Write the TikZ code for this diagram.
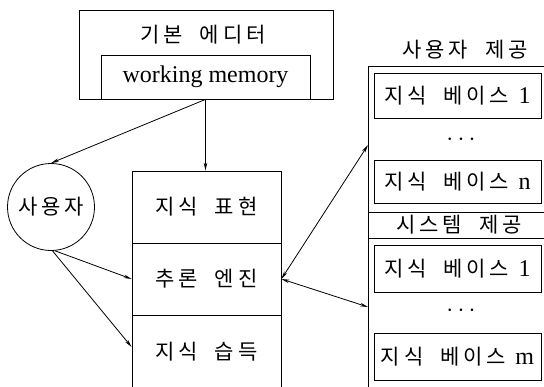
\documentclass[tikz,border=0pt]{standalone}
\usepackage{fontspec}
\setmainfont{Liberation Serif}
\newfontfamily\kr[LetterSpace=18,WordSpace=2]{Noto Sans CJK KR}
\usetikzlibrary{arrows.meta}
\newcommand\kbtext[1]{{\kr\fontsize{21}{21}\selectfont 지식 베이스} \hspace{7pt}{\fontsize{24}{24}\selectfont #1}}
\newcommand\kbdots{{\fontsize{24}{24}\selectfont$\cdots$}}
\begin{document}
\begin{tikzpicture}[x=1pt,y=-1pt,line width=0.8pt,
  box/.style={draw,rectangle,inner sep=0pt},
  kt/.style={font=\kr\fontsize{21}{21}\selectfont},
  lt/.style={font=\fontsize{24}{24}\selectfont},
  tip/.tip={Stealth[length=8pt,width=3.5pt]},
  arr/.style={-tip},
  darr/.style={tip-tip}]
\useasboundingbox (0,0) rectangle (544,386);
\clip (0,0) rectangle (544,386);
% editor
\node[box,minimum width=254pt,minimum height=89pt] (editor) at (206,54.5) {};
\node[kt] (edtitle) at (203,35) {기본 에디터};
\node[box,lt,minimum width=209pt,minimum height=44pt] (wm) at (205.5,77) {working memory};
% user
\node[draw,circle,minimum size=87pt,inner sep=0pt,kt] (user) at (51,207) {사용자};
% central
\node[box,kt,minimum width=149pt,minimum height=72pt] (rep) at (206.5,207) {지식 표현};
\node[box,kt,minimum width=149pt,minimum height=72pt] (inf) at (206.5,279) {추론 엔진};
\node[box,kt,minimum width=149pt,minimum height=74pt] (acq) at (206.5,352) {지식 습득};
% right
\node[kt] (ulabel) at (465,50) {사용자 제공};
\node[box,minimum width=182pt,minimum height=329pt] (kb) at (459,230.5) {};
\node[box,kt,minimum width=182pt,minimum height=26pt] (slabel) at (459,225) {시스템 제공};
\node[box,minimum width=167pt,minimum height=45pt] (u1) at (457.5,95.5) {\kbtext{1}};
\node (udots) at (461,140) {\kbdots};
\node[box,minimum width=167pt,minimum height=43pt] (un) at (457.5,181.5) {\kbtext{n}};
\node[box,minimum width=167pt,minimum height=47pt] (s1) at (457.5,268.5) {\kbtext{1}};
\node (sdots) at (461,311) {\kbdots};
\node[box,minimum width=167pt,minimum height=47pt] (sm) at (457.5,356.5) {\kbtext{m}};
% connectors
\coordinate (kbA) at (368,145);
\coordinate (kbB) at (368,307);
\draw[arr] (wm.south) -- (user.north);
\draw[arr] (wm.south) -- (wm.south |- rep.north);
\draw[arr] (user.-85) -- (inf.west);
\draw[arr] (user.-88) -- ([yshift=5pt]acq.west);
\draw[darr] (inf.east) -- (kbA);
\draw[darr] (inf.east) -- (kbB);
\end{tikzpicture}
\end{document}
